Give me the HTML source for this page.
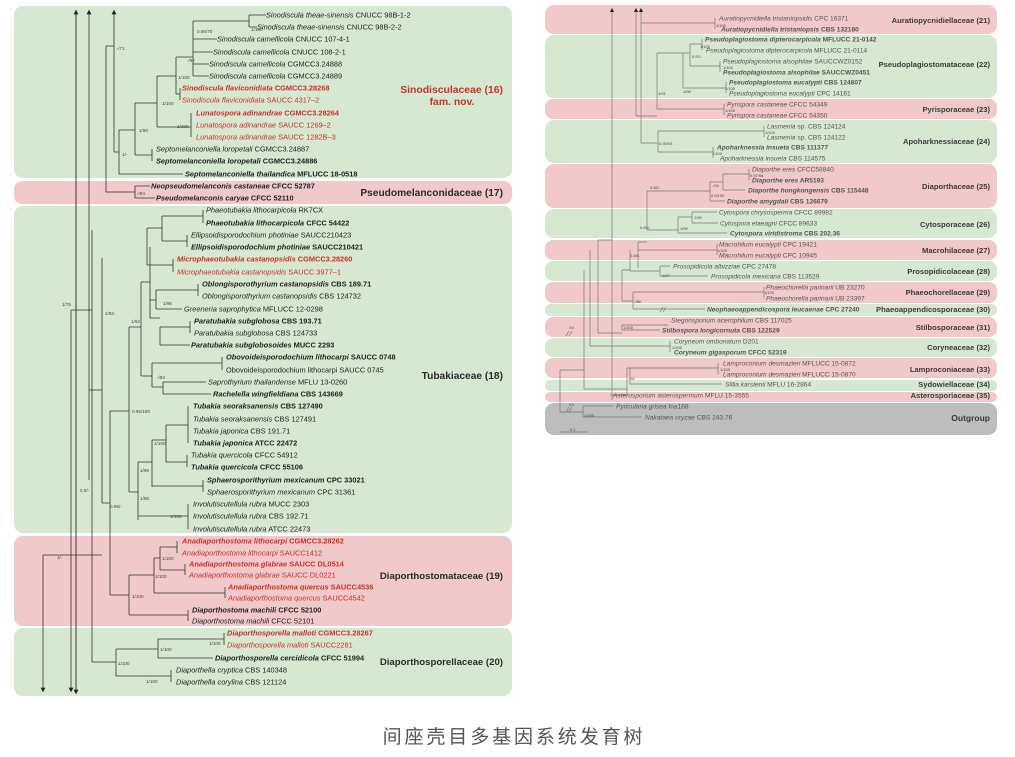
<!DOCTYPE html>
<html><head><meta charset="utf-8"><style>
html,body{margin:0;padding:0;background:#fff;}
svg{display:block;font-family:"Liberation Sans",Arial,sans-serif;}
.l{font-size:7.4px;fill:#222;}
.r{font-size:6.6px;fill:#555;}
.b{font-weight:bold;}
.red{fill:#c9302c;}
.fl{font-size:10.2px;font-weight:bold;fill:#2a2a2a;}
.fr{font-size:7.6px;font-weight:bold;fill:#3a3a3a;}
.s{font-size:4.6px;fill:#444;}
</style></head><body>
<svg width="1015" height="757" viewBox="0 0 1015 757" xmlns="http://www.w3.org/2000/svg">
<defs><marker id="au" markerWidth="6" markerHeight="6" refX="3" refY="3" orient="auto"><path d="M0,0 L6,3 L0,6 z" fill="#222"/></marker></defs>
<rect x="14" y="6" width="498" height="172" rx="9" fill="#d6e8d1"/>
<rect x="14" y="181" width="498" height="23" rx="8" fill="#f1c9ca"/>
<rect x="14" y="206" width="498" height="327" rx="9" fill="#d6e8d1"/>
<rect x="14" y="536" width="498" height="90" rx="9" fill="#f1c9ca"/>
<rect x="14" y="628" width="498" height="68" rx="9" fill="#d6e8d1"/>
<rect x="545" y="5" width="452" height="29" rx="9" fill="#f1c9ca"/>
<rect x="545" y="35" width="452" height="63" rx="9" fill="#d6e8d1"/>
<rect x="545" y="99" width="452" height="20" rx="8" fill="#f1c9ca"/>
<rect x="545" y="120" width="452" height="43" rx="9" fill="#d6e8d1"/>
<rect x="545" y="164" width="452" height="44" rx="9" fill="#f1c9ca"/>
<rect x="545" y="209" width="452" height="29" rx="9" fill="#d6e8d1"/>
<rect x="545" y="240" width="452" height="20" rx="8" fill="#f1c9ca"/>
<rect x="545" y="261" width="452" height="20" rx="8" fill="#d6e8d1"/>
<rect x="545" y="282" width="452" height="21" rx="8" fill="#f1c9ca"/>
<rect x="545" y="304" width="452" height="12" rx="6" fill="#d6e8d1"/>
<rect x="545" y="317" width="452" height="20" rx="8" fill="#f1c9ca"/>
<rect x="545" y="338" width="452" height="19" rx="8" fill="#d6e8d1"/>
<rect x="545" y="358" width="452" height="20" rx="8" fill="#f1c9ca"/>
<rect x="545" y="380" width="452" height="11" rx="5" fill="#d6e8d1"/>
<rect x="545" y="392" width="452" height="10" rx="5" fill="#f1c9ca"/>
<rect x="545" y="403" width="452" height="32" rx="9" fill="#bdbdbd"/>

<g stroke="#333" stroke-width="0.8" fill="none">
<path d="M76,692 V12" marker-end="url(#au)"/>
<path d="M76,12 V692" marker-end="url(#au)"/>
<path d="M89,480 V12" marker-end="url(#au)"/>
<path d="M114,152 V12" marker-end="url(#au)"/>
<path d="M71,310 V690" marker-end="url(#au)"/>
<path d="M43,555 V690" marker-end="url(#au)"/>
<path d="M43,555 H102 M71,310 H92 M89,390 H102"/>
<path d="M249,15 V27 M249,21 H193 M193,21 V76 M193,39 H217 M193,52 H213 M193,64 H209 M193,76 H209 M249,15 H266 M249,27 H257"/>
<path d="M176,57 V94 M176,57 H193 M176,94 H180 M180,88 V100"/>
<path d="M157,76 V127 M157,76 H176 M157,127 H191 M191,113 V137"/>
<path d="M135,103 V155 M135,103 H157 M135,155 H152 M152,149 V161"/>
<path d="M119,130 V174 M119,130 H135 M119,174 H183 M114,152 H119"/>
<path d="M106,46 V192 M106,46 H114 M106,192 H135 M135,186 V198 M135,186 H150 M135,198 H155"/>
<path d="M203,210 V223 M162,216 V241 M162,216 H203 M162,241 H187 M187,235 V247"/>
<path d="M147,228 V265 M147,228 H162 M147,265 H173 M173,259 V272"/>
<path d="M198,284 V296 M156,290 V309 M156,290 H198 M156,309 H182 M190,321 V333 M160,327 V345 M160,327 H190 M160,345 H190"/>
<path d="M150,247 V318 M150,300 H156 M150,318 H160 M141,282 V376 M141,282 H150"/>
<path d="M222,357 V370 M152,363 V387 M152,363 H222 M163,382 V394 M163,382 H206 M163,394 H211 M152,387 H163 M141,376 H152"/>
<path d="M129,327 V492 M129,327 H141 M110,411 V595 M110,411 H129 M102,258 V503 M102,503 H110"/>
<path d="M188,406 V443 M166,425 V462 M166,425 H188 M187,455 V467 M166,462 H187 M152,440 V487 M152,440 H166 M152,486 H203 M203,480 V492 M138,462 V520 M138,462 H152 M138,516 H188 M188,504 V529 M129,492 H138"/>
<path d="M177,541 V553 M160,547 V570 M160,547 H177 M185,564 V575 M160,570 H185 M154,558 V593 M154,558 H160 M225,587 V598 M154,593 H225 M129,575 V615 M129,575 H154 M188,610 V621 M129,615 H188 M110,595 H129"/>
<path d="M224,633 V645 M158,639 V658 M158,639 H224 M158,658 H213 M116,649 V676 M116,649 H158 M171,670 V682 M116,676 H171 M92,230 V662 M92,662 H116"/>
</g>

<g stroke="#777" stroke-width="0.7" fill="none">
<path d="M612,400 V10" marker-end="url(#au)"/>
<path d="M636,116 V10" marker-end="url(#au)"/>
<path d="M641,143 V10" marker-end="url(#au)"/>
<path d="M715,18 V29 M641,23 H715"/>
<path d="M702,39 V50 M690,44 V66 M690,44 H702 M720,61 V72 M690,66 H720 M683,53 V88 M683,53 H690 M726,82 V93 M683,88 H726 M657,53 V109 M657,53 H683 M724,104 V115 M657,109 H724 M636,116 H657"/>
<path d="M764,126 V137 M658,131 V152 M658,131 H764 M713,147 V158 M658,152 H713 M641,143 H658"/>
<path d="M749,169 V180 M723,174 V190 M723,174 H749 M723,190 H745 M710,182 V201 M710,182 H723 M710,201 H725 M647,191 V230 M647,191 H710"/>
<path d="M692,212 V223 M678,217 V233 M678,217 H692 M692,212 H717 M692,223 H718 M678,233 H727 M647,230 H678 M638,242 V268 M638,242 H647 M717,244 V255 M638,250 H717"/>
<path d="M660,266 V276 M630,271 H660 M660,266 H670 M660,276 H708 M764,287 V298 M633,292 V309 M633,292 H764 M633,309 H705 M622,270 V301 M622,301 H633 M630,250 V271"/>
<path d="M622,270 H630 M598,240 V333 M598,240 H612 M622,333 H598 M622,325 V330 M622,325 H668 M622,330 H660 M598,333 V330 M590,250 V346 M590,346 H670 M670,341 V352 M584,270 V389"/>
<path d="M627,368 V395 M627,368 H630 M627,395 H610 M630,368 H718 M718,363 V374 M630,368 V384 M630,384 H722 M584,389 H627 M560,370 V412 M560,370 H584 M560,412 H583 M583,406 V417 M583,406 H613 M583,417 H642"/>
<path d="M560,432 H588"/>
</g>

<g class="l">
<text x="266" y="17.6"><tspan font-style="italic">Sinodiscula theae-sinensis</tspan> CNUCC 98B-1-2</text>
<text x="257" y="29.6"><tspan font-style="italic">Sinodiscula theae-sinensis</tspan> CNUCC 98B-2-2</text>
<text x="217" y="41.6"><tspan font-style="italic">Sinodiscula camellicola</tspan> CNUCC 107-4-1</text>
<text x="213" y="54.6"><tspan font-style="italic">Sinodiscula camellicola</tspan> CNUCC 108-2-1</text>
<text x="209" y="66.6"><tspan font-style="italic">Sinodiscula camellicola</tspan> CGMCC3.24888</text>
<text x="209" y="78.6"><tspan font-style="italic">Sinodiscula camellicola</tspan> CGMCC3.24889</text>
<text x="182" y="90.6" class="b red"><tspan font-style="italic">Sinodiscula flaviconidiata</tspan> CGMCC3.28268</text>
<text x="182" y="102.6" class="red"><tspan font-style="italic">Sinodiscula flaviconidiata</tspan> SAUCC 4317–2</text>
<text x="196" y="115.6" class="b red"><tspan font-style="italic">Lunatospora adinandrae</tspan> CGMCC3.28264</text>
<text x="196" y="127.6" class="red"><tspan font-style="italic">Lunatospora adinandrae</tspan> SAUCC 1269–2</text>
<text x="196" y="139.6" class="red"><tspan font-style="italic">Lunatospora adinandrae</tspan> SAUCC 1282B–3</text>
<text x="156" y="151.6"><tspan font-style="italic">Septomelanconiella loropetali</tspan> CGMCC3.24887</text>
<text x="156" y="163.6" class="b"><tspan font-style="italic">Septomelanconiella loropetali</tspan> CGMCC3.24886</text>
<text x="185" y="176.6" class="b"><tspan font-style="italic">Septomelanconiella thailandica</tspan> MFLUCC 18-0518</text>
<text x="151" y="188.6" class="b"><tspan font-style="italic">Neopseudomelanconis castaneae</tspan> CFCC 52787</text>
<text x="156" y="200.6" class="b"><tspan font-style="italic">Pseudomelanconis caryae</tspan> CFCC 52110</text>
<text x="206" y="212.6"><tspan font-style="italic">Phaeotubakia lithocarpicola</tspan> RK7CX</text>
<text x="206" y="225.6" class="b"><tspan font-style="italic">Phaeotubakia lithocarpicola</tspan> CFCC 54422</text>
<text x="191" y="237.6"><tspan font-style="italic">Ellipsoidisporodochium photiniae</tspan> SAUCC210423</text>
<text x="191" y="249.6" class="b"><tspan font-style="italic">Ellipsoidisporodochium photiniae</tspan> SAUCC210421</text>
<text x="177" y="261.6" class="b red"><tspan font-style="italic">Microphaeotubakia castanopsidis</tspan> CGMCC3.28260</text>
<text x="177" y="274.6" class="red"><tspan font-style="italic">Microphaeotubakia castanopsidis</tspan> SAUCC 3977–1</text>
<text x="202" y="286.6" class="b"><tspan font-style="italic">Oblongisporothyrium castanopsidis</tspan> CBS 189.71</text>
<text x="202" y="298.6"><tspan font-style="italic">Oblongisporothyrium castanopsidis</tspan> CBS 124732</text>
<text x="184" y="311.6"><tspan font-style="italic">Greeneria saprophytica</tspan> MFLUCC 12-0298</text>
<text x="194" y="323.6" class="b"><tspan font-style="italic">Paratubakia subglobosa</tspan> CBS 193.71</text>
<text x="194" y="335.6"><tspan font-style="italic">Paratubakia subglobosa</tspan> CBS 124733</text>
<text x="191" y="347.6" class="b"><tspan font-style="italic">Paratubakia subglobosoides</tspan> MUCC 2293</text>
<text x="226" y="359.6" class="b"><tspan font-style="italic">Obovoideisporodochium lithocarpi</tspan> SAUCC 0748</text>
<text x="226" y="372.6">Obovoideisporodochium lithocarpi SAUCC 0745</text>
<text x="208" y="384.6"><tspan font-style="italic">Saprothyrium thailandense</tspan> MFLU 13-0260</text>
<text x="213" y="396.6" class="b"><tspan font-style="italic">Rachelella wingfieldiana</tspan> CBS 143669</text>
<text x="193" y="408.6" class="b"><tspan font-style="italic">Tubakia seoraksanensis</tspan> CBS 127490</text>
<text x="193" y="421.6"><tspan font-style="italic">Tubakia seoraksanensis</tspan> CBS 127491</text>
<text x="193" y="433.6"><tspan font-style="italic">Tubakia japonica</tspan> CBS 191.71</text>
<text x="193" y="445.6" class="b"><tspan font-style="italic">Tubakia japonica</tspan> ATCC 22472</text>
<text x="191" y="457.6"><tspan font-style="italic">Tubakia quercicola</tspan> CFCC 54912</text>
<text x="191" y="469.6" class="b"><tspan font-style="italic">Tubakia quercicola</tspan> CFCC 55106</text>
<text x="207" y="482.6" class="b"><tspan font-style="italic">Sphaerosporithyrium mexicanum</tspan> CPC 33021</text>
<text x="207" y="494.6"><tspan font-style="italic">Sphaerosporithyrium mexicanum</tspan> CPC 31361</text>
<text x="193" y="506.6"><tspan font-style="italic">Involutiscutellula rubra</tspan> MUCC 2303</text>
<text x="193" y="518.6"><tspan font-style="italic">Involutiscutellula rubra</tspan> CBS 192.71</text>
<text x="193" y="531.6"><tspan font-style="italic">Involutiscutellula rubra</tspan> ATCC 22473</text>
<text x="182" y="543.6" class="b red"><tspan font-style="italic">Anadiaporthostoma lithocarpi</tspan> CGMCC3.28262</text>
<text x="182" y="555.6" class="red"><tspan font-style="italic">Anadiaporthostoma lithocarpi</tspan> SAUCC1412</text>
<text x="189" y="566.6" class="b red"><tspan font-style="italic">Anadiaporthostoma glabrae</tspan> SAUCC DL0514</text>
<text x="189" y="577.6" class="red"><tspan font-style="italic">Anadiaporthostoma glabrae</tspan> SAUCC DL0221</text>
<text x="228" y="589.6" class="b red"><tspan font-style="italic">Anadiaporthostoma quercus</tspan> SAUCC4536</text>
<text x="228" y="600.6" class="red"><tspan font-style="italic">Anadiaporthostoma quercus</tspan> SAUCC4542</text>
<text x="192" y="612.6" class="b"><tspan font-style="italic">Diaporthostoma machili</tspan> CFCC 52100</text>
<text x="192" y="623.6"><tspan font-style="italic">Diaporthostoma machili</tspan> CFCC 52101</text>
<text x="227" y="635.6" class="b red"><tspan font-style="italic">Diaporthosporella malloti</tspan> CGMCC3.28267</text>
<text x="227" y="647.6" class="red"><tspan font-style="italic">Diaporthosporella malloti</tspan> SAUCC2281</text>
<text x="215" y="660.6" class="b"><tspan font-style="italic">Diaporthosporella cercidicola</tspan> CFCC 51994</text>
<text x="176" y="672.6"><tspan font-style="italic">Diaporthella cryptica</tspan> CBS 140348</text>
<text x="176" y="684.6"><tspan font-style="italic">Diaporthella corylina</tspan> CBS 121124</text>
</g>
<g class="s">
<text x="251" y="31">1/100</text><text x="197" y="33">0.95/70</text><text x="187" y="62">-/97</text><text x="178" y="79">1/100</text><text x="162" y="105">1/100</text><text x="177" y="128">1/100</text><text x="139" y="132">1/90</text><text x="122" y="156">1/-</text><text x="117" y="50">√71</text><text x="137" y="195">-/94</text><text x="163" y="305">1/96</text><text x="131" y="323">1/92</text><text x="105" y="315">1/83</text><text x="62" y="306">1/75</text><text x="157" y="379">-/83</text><text x="132" y="413">0.95/100</text><text x="154" y="445">1/100</text><text x="140" y="472">1/99</text><text x="140" y="500">1/98</text><text x="170" y="518">1/100</text><text x="110" y="508">0.95/-</text><text x="80" y="492">0.9/-</text><text x="57" y="559">1/-</text><text x="162" y="560">1/100</text><text x="155" y="578">1/100</text><text x="132" y="598">1/100</text><text x="209" y="645">1/100</text><text x="160" y="651">1/100</text><text x="118" y="665">1/100</text><text x="146" y="683">1/100</text>
</g>
<text x="503" y="93" text-anchor="end" class="fl" style="fill:#c9302c;font-size:10.4px">Sinodisculaceae (16)</text>
<text x="452" y="105" text-anchor="middle" class="fl" style="fill:#c9302c;font-size:10.4px">fam. nov.</text>
<text x="503" y="196" text-anchor="end" class="fl">Pseudomelanconidaceae (17)</text>
<text x="503" y="379" text-anchor="end" class="fl">Tubakiaceae (18)</text>
<text x="503" y="579" text-anchor="end" class="fl" style="font-size:9.6px">Diaporthostomataceae (19)</text>
<text x="503" y="665" text-anchor="end" class="fl" style="font-size:9.6px">Diaporthosporellaceae (20)</text>

<g class="r">
<text x="719" y="20.3"><tspan font-style="italic">Auratiopycnidiella tristaniopsidis</tspan> CPC 16371</text>
<text x="721" y="31.3" class="b"><tspan font-style="italic">Auratiopycnidiella tristaniopsis</tspan> CBS 132180</text>
<text x="705" y="41.3" class="b"><tspan font-style="italic">Pseudoplagiostoma dipterocarpicola</tspan> MFLUCC 21-0142</text>
<text x="706" y="52.3"><tspan font-style="italic">Pseudoplagiostoma dipterocarpicola</tspan> MFLUCC 21-0114</text>
<text x="723" y="63.3"><tspan font-style="italic">Pseudoplagiostoma alsophilae</tspan> SAUCCWZ0152</text>
<text x="723" y="74.3" class="b"><tspan font-style="italic">Pseudoplagiostoma alsophilae</tspan> SAUCCWZ0451</text>
<text x="729" y="84.3" class="b"><tspan font-style="italic">Pseudoplagiostoma eucalypti</tspan> CBS 124807</text>
<text x="729" y="95.3"><tspan font-style="italic">Pseudoplagiostoma eucalypti</tspan> CPC 14161</text>
<text x="727" y="106.3"><tspan font-style="italic">Pyrispora castaneae</tspan> CFCC 54349</text>
<text x="727" y="117.3"><tspan font-style="italic">Pyrispora castaneae</tspan> CFCC 54350</text>
<text x="767" y="128.3"><tspan font-style="italic">Lasmenia</tspan> sp. CBS 124124</text>
<text x="767" y="139.3"><tspan font-style="italic">Lasmenia</tspan> sp. CBS 124122</text>
<text x="717" y="149.3" class="b"><tspan font-style="italic">Apoharknessia insueta</tspan> CBS 111377</text>
<text x="720" y="160.3"><tspan font-style="italic">Apoharknessia insueta</tspan> CBS 114575</text>
<text x="752" y="171.3"><tspan font-style="italic">Diaporthe eres</tspan> CFCC58840</text>
<text x="752" y="182.3" class="b"><tspan font-style="italic">Diaporthe eres</tspan> AR5193</text>
<text x="748" y="192.3" class="b"><tspan font-style="italic">Diaporthe hongkongensis</tspan> CBS 115448</text>
<text x="727" y="203.3" class="b"><tspan font-style="italic">Diaporthe amygdali</tspan> CBS 126679</text>
<text x="719" y="214.3"><tspan font-style="italic">Cytospora chrysosperma</tspan> CFCC 89982</text>
<text x="720" y="225.3"><tspan font-style="italic">Cytospora elaeagni</tspan> CFCC 89633</text>
<text x="730" y="235.3" class="b"><tspan font-style="italic">Cytospora viridistroma</tspan> CBS 202.36</text>
<text x="719" y="246.3"><tspan font-style="italic">Macrohilum eucalypti</tspan> CPC 19421</text>
<text x="719" y="257.3"><tspan font-style="italic">Macrohilum eucalypti</tspan> CPC 10945</text>
<text x="673" y="268.3"><tspan font-style="italic">Prosopidicola albizziae</tspan> CPC 27478</text>
<text x="711" y="278.3"><tspan font-style="italic">Prosopidicola mexicana</tspan> CBS 113529</text>
<text x="766" y="289.3"><tspan font-style="italic">Phaeochorella parinarii</tspan> UB 23270</text>
<text x="766" y="300.3"><tspan font-style="italic">Phaeochorella parinarii</tspan> UB 23397</text>
<text x="707" y="311.3" class="b"><tspan font-style="italic">Neophaeoappendicospora leucaenae</tspan> CPC 27240</text>
<text x="671" y="322.3"><tspan font-style="italic">Stegonsporium acerophilum</tspan> CBS 117025</text>
<text x="662" y="332.3" class="b"><tspan font-style="italic">Stilbospora longicornuta</tspan> CBS 122529</text>
<text x="674" y="343.3"><tspan font-style="italic">Coryneum umbonatum</tspan> D201</text>
<text x="674" y="354.3" class="b"><tspan font-style="italic">Coryneum gigasporum</tspan> CFCC 52319</text>
<text x="723" y="365.3"><tspan font-style="italic">Lamproconium desmazieri</tspan> MFLUCC 15-0872</text>
<text x="723" y="376.3"><tspan font-style="italic">Lamproconium desmazieri</tspan> MFLUCC 15-0870</text>
<text x="725" y="386.3"><tspan font-style="italic">Sillia karstenii</tspan> MFLU 16-2864</text>
<text x="613" y="397.3"><tspan font-style="italic">Asterosporium asterospermum</tspan> MFLU 15-3555</text>
<text x="616" y="408.3"><tspan font-style="italic">Pyricularia grisea</tspan> Ina168</text>
<text x="645" y="419.3"><tspan font-style="italic">Nakataea oryzae</tspan> CBS 243.76</text>
</g>
<g class="s" style="font-size:4px">
<text x="716" y="27">1/100</text><text x="700" y="48">1/100</text><text x="692" y="58">0.97/-</text><text x="723" y="69">1/100</text><text x="683" y="93">1/98</text><text x="725" y="90">1/100</text><text x="658" y="95">1/91</text><text x="725" y="112">1/100</text><text x="765" y="134">1/100</text><text x="659" y="145">0.95/93</text><text x="712" y="155">1/100</text><text x="750" y="177">0.97/94</text><text x="712" y="187">-/94</text><text x="711" y="197">0.9/100</text><text x="650" y="189">0.82/-</text><text x="694" y="219">1/99</text><text x="680" y="230">1/99</text><text x="640" y="229">0.89/-</text><text x="717" y="252">1/100</text><text x="630" y="257">0.84/-</text><text x="662" y="277">1/97</text><text x="764" y="294">1/100</text><text x="634" y="303">-/88</text><text x="623" y="329">1/100</text><text x="672" y="349">1/100</text><text x="720" y="371">1/100</text><text x="628" y="380">-/92</text><text x="584" y="417">1/100</text><text x="569" y="329">XX</text><text x="569" y="406">XX</text><text x="570" y="431">0.1</text>
</g>
<g stroke="#666" stroke-width="0.6"><path d="M566,336 l3,-5 M569,336 l3,-5 M566,412 l3,-5 M569,412 l3,-5 M660,312 l3,-5 M663,312 l3,-5"/></g>
<g class="fr" text-anchor="end">
<text x="990" y="23">Auratiopycnidiellaceae (21)</text>
<text x="990" y="67">Pseudoplagiostomataceae (22)</text>
<text x="990" y="112">Pyrisporaceae (23)</text>
<text x="990" y="144">Apoharknessiaceae (24)</text>
<text x="990" y="189">Diaporthaceae (25)</text>
<text x="990" y="227">Cytosporaceae (26)</text>
<text x="990" y="253">Macrohilaceae (27)</text>
<text x="990" y="274">Prosopidicolaceae (28)</text>
<text x="990" y="295">Phaeochorellaceae (29)</text>
<text x="990" y="312">Phaeoappendicosporaceae (30)</text>
<text x="990" y="330">Stilbosporaceae (31)</text>
<text x="990" y="350">Coryneaceae (32)</text>
<text x="990" y="372">Lamproconiaceae (33)</text>
<text x="990" y="387">Sydowiellaceae (34)</text>
<text x="990" y="398">Asterosporiaceae (35)</text>
<text x="990" y="421" style="font-size:8.5px">Outgroup</text>
</g>
<text x="514" y="743" text-anchor="middle" style="font-family:'Liberation Sans','Noto Sans CJK SC',sans-serif;font-size:19px;fill:#555;letter-spacing:2.9px">间座壳目多基因系统发育树</text>
</svg>
</body></html>
